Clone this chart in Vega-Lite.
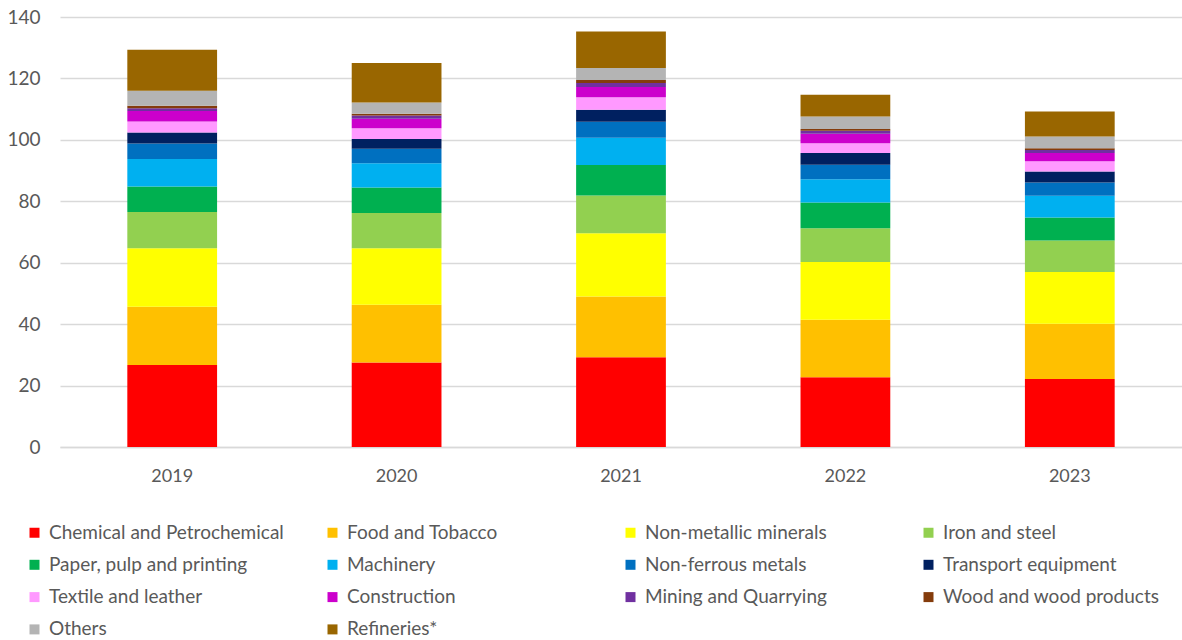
{
  "$schema": "https://vega.github.io/schema/vega-lite/v6.json",
  "autosize": {"type": "none"},
  "padding": {"left": 60, "top": 17, "right": 0, "bottom": 193},
  "width": 1122,
  "height": 430,
  "background": "white",
  "config": {
    "font": "Lato",
    "view": {"stroke": null}
  },
  "datasets": {
    "sectors": [
      {"sector": "Chemical and Petrochemical", "rank": 1},
      {"sector": "Food and Tobacco", "rank": 2},
      {"sector": "Non-metallic minerals", "rank": 3},
      {"sector": "Iron and steel", "rank": 4},
      {"sector": "Paper, pulp and printing", "rank": 5},
      {"sector": "Machinery", "rank": 6},
      {"sector": "Non-ferrous metals", "rank": 7},
      {"sector": "Transport equipment", "rank": 8},
      {"sector": "Textile and leather", "rank": 9},
      {"sector": "Construction", "rank": 10},
      {"sector": "Mining and Quarrying", "rank": 11},
      {"sector": "Wood and wood products", "rank": 12},
      {"sector": "Others", "rank": 13},
      {"sector": "Refineries*", "rank": 14}
    ]
  },
  "data": {
    "values": [
      {"year": "2019", "sector": "Chemical and Petrochemical", "value": 26.7},
      {"year": "2019", "sector": "Food and Tobacco", "value": 19.0},
      {"year": "2019", "sector": "Non-metallic minerals", "value": 19.0},
      {"year": "2019", "sector": "Iron and steel", "value": 11.8},
      {"year": "2019", "sector": "Paper, pulp and printing", "value": 8.3},
      {"year": "2019", "sector": "Machinery", "value": 9.0},
      {"year": "2019", "sector": "Non-ferrous metals", "value": 5.0},
      {"year": "2019", "sector": "Transport equipment", "value": 3.6},
      {"year": "2019", "sector": "Textile and leather", "value": 3.6},
      {"year": "2019", "sector": "Construction", "value": 3.4},
      {"year": "2019", "sector": "Mining and Quarrying", "value": 0.9},
      {"year": "2019", "sector": "Wood and wood products", "value": 0.8},
      {"year": "2019", "sector": "Others", "value": 4.9},
      {"year": "2019", "sector": "Refineries*", "value": 13.3},
      {"year": "2020", "sector": "Chemical and Petrochemical", "value": 27.5},
      {"year": "2020", "sector": "Food and Tobacco", "value": 18.8},
      {"year": "2020", "sector": "Non-metallic minerals", "value": 18.4},
      {"year": "2020", "sector": "Iron and steel", "value": 11.5},
      {"year": "2020", "sector": "Paper, pulp and printing", "value": 8.3},
      {"year": "2020", "sector": "Machinery", "value": 7.9},
      {"year": "2020", "sector": "Non-ferrous metals", "value": 4.7},
      {"year": "2020", "sector": "Transport equipment", "value": 3.2},
      {"year": "2020", "sector": "Textile and leather", "value": 3.5},
      {"year": "2020", "sector": "Construction", "value": 3.1},
      {"year": "2020", "sector": "Mining and Quarrying", "value": 1.0},
      {"year": "2020", "sector": "Wood and wood products", "value": 0.6},
      {"year": "2020", "sector": "Others", "value": 3.7},
      {"year": "2020", "sector": "Refineries*", "value": 12.8},
      {"year": "2021", "sector": "Chemical and Petrochemical", "value": 29.2},
      {"year": "2021", "sector": "Food and Tobacco", "value": 19.8},
      {"year": "2021", "sector": "Non-metallic minerals", "value": 20.6},
      {"year": "2021", "sector": "Iron and steel", "value": 12.3},
      {"year": "2021", "sector": "Paper, pulp and printing", "value": 9.9},
      {"year": "2021", "sector": "Machinery", "value": 8.9},
      {"year": "2021", "sector": "Non-ferrous metals", "value": 5.2},
      {"year": "2021", "sector": "Transport equipment", "value": 3.9},
      {"year": "2021", "sector": "Textile and leather", "value": 4.1},
      {"year": "2021", "sector": "Construction", "value": 3.3},
      {"year": "2021", "sector": "Mining and Quarrying", "value": 1.3},
      {"year": "2021", "sector": "Wood and wood products", "value": 1.0},
      {"year": "2021", "sector": "Others", "value": 3.9},
      {"year": "2021", "sector": "Refineries*", "value": 11.9},
      {"year": "2022", "sector": "Chemical and Petrochemical", "value": 22.7},
      {"year": "2022", "sector": "Food and Tobacco", "value": 18.7},
      {"year": "2022", "sector": "Non-metallic minerals", "value": 18.8},
      {"year": "2022", "sector": "Iron and steel", "value": 11.0},
      {"year": "2022", "sector": "Paper, pulp and printing", "value": 8.4},
      {"year": "2022", "sector": "Machinery", "value": 7.6},
      {"year": "2022", "sector": "Non-ferrous metals", "value": 4.7},
      {"year": "2022", "sector": "Transport equipment", "value": 3.8},
      {"year": "2022", "sector": "Textile and leather", "value": 3.2},
      {"year": "2022", "sector": "Construction", "value": 3.1},
      {"year": "2022", "sector": "Mining and Quarrying", "value": 1.0},
      {"year": "2022", "sector": "Wood and wood products", "value": 0.5},
      {"year": "2022", "sector": "Others", "value": 4.1},
      {"year": "2022", "sector": "Refineries*", "value": 7.1},
      {"year": "2023", "sector": "Chemical and Petrochemical", "value": 22.1},
      {"year": "2023", "sector": "Food and Tobacco", "value": 18.0},
      {"year": "2023", "sector": "Non-metallic minerals", "value": 16.9},
      {"year": "2023", "sector": "Iron and steel", "value": 10.2},
      {"year": "2023", "sector": "Paper, pulp and printing", "value": 7.5},
      {"year": "2023", "sector": "Machinery", "value": 7.1},
      {"year": "2023", "sector": "Non-ferrous metals", "value": 4.3},
      {"year": "2023", "sector": "Transport equipment", "value": 3.6},
      {"year": "2023", "sector": "Textile and leather", "value": 3.3},
      {"year": "2023", "sector": "Construction", "value": 2.7},
      {"year": "2023", "sector": "Mining and Quarrying", "value": 1.0},
      {"year": "2023", "sector": "Wood and wood products", "value": 0.6},
      {"year": "2023", "sector": "Others", "value": 3.8},
      {"year": "2023", "sector": "Refineries*", "value": 8.1}
    ]
  },
  "transform": [
    {"lookup": "sector", "from": {"data": {"name": "sectors"}, "key": "sector", "fields": ["rank"]}}
  ],
  "mark": {"type": "bar"},
  "encoding": {
    "x": {
      "field": "year", "type": "nominal", "title": null,
      "scale": {"paddingInner": 0.6, "paddingOuter": 0.3},
      "axis": {
        "labelAngle": 0, "labelFontSize": 18, "labelColor": "#595959",
        "labelPadding": 20, "ticks": false, "domainColor": "#d9d9d9", "domainWidth": 1.5
      }
    },
    "y": {
      "field": "value", "type": "quantitative", "stack": "zero", "title": null,
      "scale": {"domain": [0, 140], "nice": false},
      "axis": {
        "values": [0, 20, 40, 60, 80, 100, 120, 140],
        "labelFontSize": 19, "labelColor": "#595959", "labelPadding": 20,
        "ticks": false, "domain": false, "gridColor": "#d9d9d9", "gridWidth": 1.5
      }
    },
    "order": {"field": "rank", "type": "quantitative", "sort": "ascending"},
    "color": {
      "field": "sector", "type": "nominal", "title": null,
      "scale": {
        "domain": ["Chemical and Petrochemical", "Food and Tobacco", "Non-metallic minerals", "Iron and steel", "Paper, pulp and printing", "Machinery", "Non-ferrous metals", "Transport equipment", "Textile and leather", "Construction", "Mining and Quarrying", "Wood and wood products", "Others", "Refineries*"],
        "range": ["#FF0000", "#FFC000", "#FFFF00", "#92D050", "#00B050", "#00B0F0", "#0070C0", "#002060", "#FF99FF", "#CC00CC", "#7030A0", "#843C0C", "#B4B4B4", "#996600"]
      },
      "legend": {
        "orient": "none", "legendX": -35, "legendY": 506,
        "direction": "horizontal", "columns": 4, "gridAlign": "all",
        "symbolType": "square", "symbolSize": 100, "symbolStrokeWidth": 0,
        "labelFontSize": 19, "labelColor": "#595959", "labelLimit": 300,
        "columnPadding": 39, "rowPadding": 12.3, "labelOffset": 5
      }
    }
  }
}
